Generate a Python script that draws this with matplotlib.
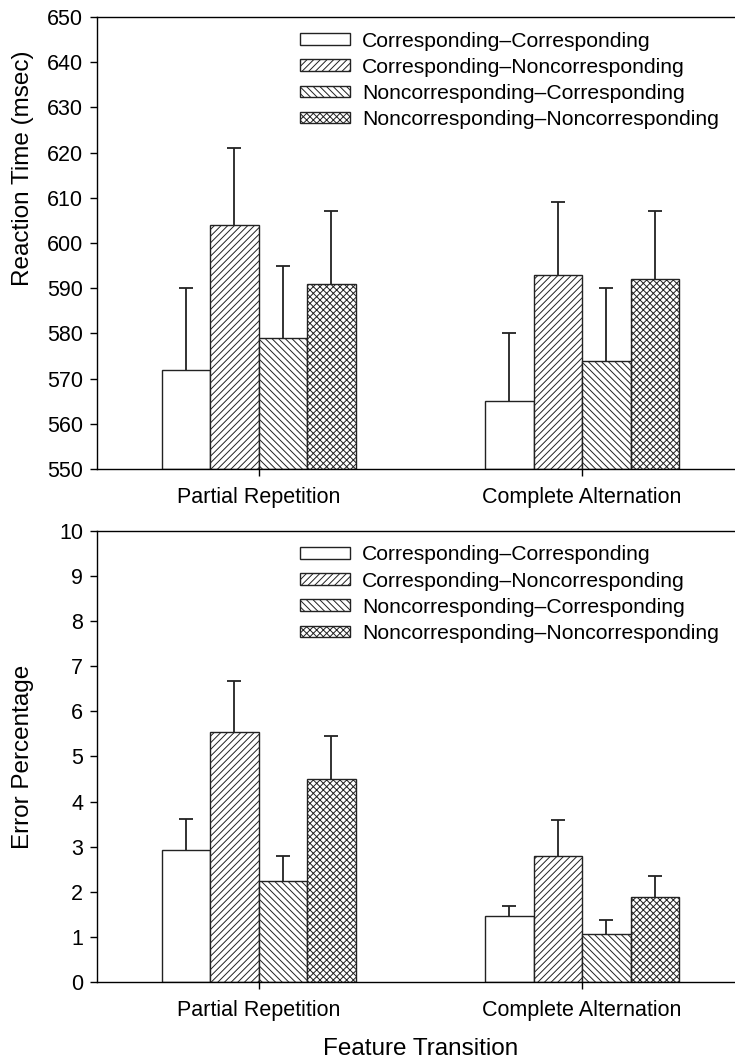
import numpy as np
import matplotlib
matplotlib.use("Agg")
import matplotlib.pyplot as plt

plt.rcParams['font.family'] = ['Liberation Sans', 'DejaVu Sans']
plt.rcParams['hatch.linewidth'] = 0.7

groups = ["Partial Repetition", "Complete Alternation"]
conditions = ["Corresponding\u2013Corresponding",
              "Corresponding\u2013Noncorresponding",
              "Noncorresponding\u2013Corresponding",
              "Noncorresponding\u2013Noncorresponding"]
hatches = ["", "/////", "\\\\\\\\\\", "xxxxx"]

# reaction time (msec), one list per condition: [partial, complete]
rt_mean = [[572, 565], [604, 593], [579, 574], [591, 592]]
rt_err = [[18, 15], [17, 16], [16, 16], [16, 15]]

# error percentage
err_mean = [[2.93, 1.46], [5.54, 2.79], [2.24, 1.07], [4.49, 1.89]]
err_err = [[0.68, 0.23], [1.14, 0.80], [0.55, 0.30], [0.97, 0.46]]

fig = plt.figure(figsize=(7.35, 10.6), dpi=100)
ax1 = fig.add_axes([0.132, 0.5575, 0.880, 0.4264])
ax2 = fig.add_axes([0.132, 0.0736, 0.880, 0.4255])

x = np.arange(len(groups))
width = 0.15


def draw(ax, means, errs, ylim, yticks, ylabel, label_y):
    for i, cond in enumerate(conditions):
        pos = x + (i - 1.5) * width
        bottom = ylim[0]
        heights = np.array(means[i]) - bottom
        ax.bar(pos, heights, width, bottom=bottom, color="white",
               edgecolor="#222222", linewidth=1.0, hatch=hatches[i],
               label=cond, zorder=2)
        _, caps, _ = ax.errorbar(pos, means[i],
                                 yerr=[np.zeros(len(groups)), errs[i]],
                                 fmt="none", ecolor="#222222", elinewidth=1.3,
                                 capsize=5, capthick=1.3, zorder=1)
        # only the upper cap is shown
        for c in caps:
            if np.allclose(c.get_ydata(), means[i]):
                c.set_visible(False)
    ax.set_xlim(-0.5, 1.5)
    ax.set_ylim(*ylim)
    ax.set_yticks(yticks)
    ax.set_xticks(x)
    ax.set_xticklabels(groups)
    ax.tick_params(axis="both", direction="out", length=5, width=1,
                   labelsize=15.5)
    ax.tick_params(axis="y", pad=5)
    ax.tick_params(axis="x", pad=8)
    for s in ax.spines.values():
        s.set_linewidth(1.0)
    ax.set_ylabel(ylabel, fontsize=17.5)
    ax.yaxis.set_label_coords(-0.097, label_y)
    ax.legend(loc="upper left", bbox_to_anchor=(0.314, 0.968),
              frameon=False, fontsize=15.2, borderpad=0, borderaxespad=0,
              handlelength=2.35, handleheight=0.48, handletextpad=0.58,
              labelspacing=0.34)


draw(ax1, rt_mean, rt_err, (550, 650), np.arange(550, 651, 10),
     "Reaction Time (msec)", 0.665)
draw(ax2, err_mean, err_err, (0, 10), np.arange(0, 11, 1),
     "Error Percentage", 0.5)
ax2.set_xlabel("Feature Transition", fontsize=17.5, labelpad=12)

fig.savefig("out.png", dpi=100)
